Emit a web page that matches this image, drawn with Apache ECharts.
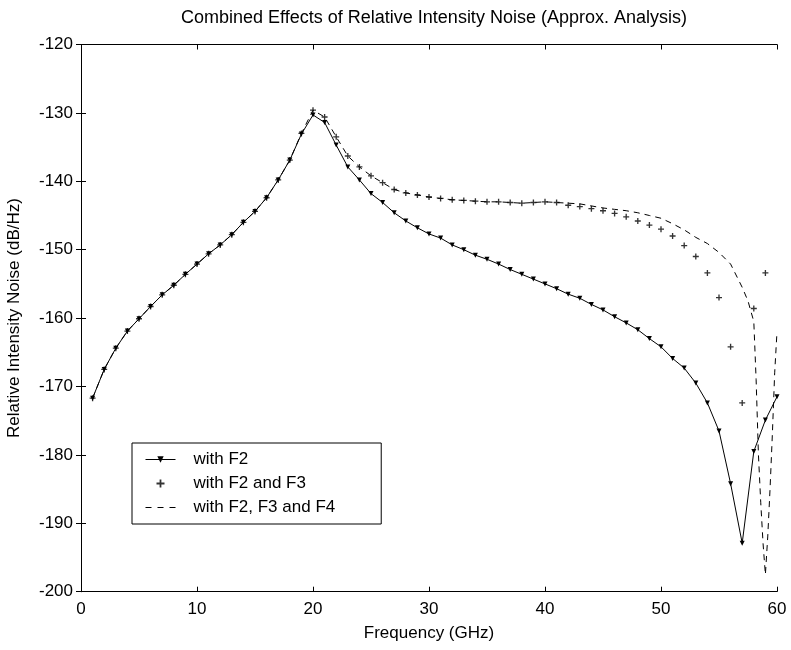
<!DOCTYPE html>
<html>
<head>
<meta charset="utf-8">
<script src="https://cdn.jsdelivr.net/npm/echarts@6/dist/echarts.min.js"></script>
<style>
  html, body { margin: 0; padding: 0; background: #fff; }
  #chart { width: 791px; height: 650px; }
</style>
</head>
<body>
<div id="chart"></div>
<script>
// frequency axis (GHz), one point per GHz
const freq = [1,2,3,4,5,6,7,8,9,10,11,12,13,14,15,16,17,18,19,20,
  21,22,23,24,25,26,27,28,29,30,31,32,33,34,35,36,37,38,39,40,
  41,42,43,44,45,46,47,48,49,50,51,52,53,54,55,56,57,58,59,60];

// with F2 (solid + triangles)
const rinF2 = [-171.7,-167.5,-164.4,-161.9,-160.1,-158.3,-156.6,-155.2,-153.6,-152.1,
  -150.6,-149.3,-147.8,-146.0,-144.4,-142.4,-139.8,-136.9,-133.1,-130.3,
  -131.4,-134.7,-137.9,-139.8,-141.8,-143.1,-144.6,-145.8,-146.8,-147.7,
  -148.3,-149.3,-150.0,-150.8,-151.4,-152.1,-152.9,-153.6,-154.3,-155.0,
  -155.7,-156.5,-157.1,-158.0,-158.8,-159.8,-160.7,-161.7,-163.0,-164.2,
  -165.9,-167.3,-169.5,-172.4,-176.5,-184.2,-192.9,-179.5,-174.9,-171.5];

// with F2 and F3 (plus markers only), 1..59 GHz
const rinF23 = [-171.7,-167.5,-164.4,-161.9,-160.1,-158.3,-156.6,-155.2,-153.6,-152.1,
  -150.6,-149.3,-147.8,-146.0,-144.4,-142.4,-139.8,-136.9,-133.0,-129.6,
  -130.6,-133.5,-136.3,-137.9,-139.2,-140.2,-141.2,-141.7,-142.0,-142.3,
  -142.5,-142.7,-142.8,-142.9,-143.0,-143.0,-143.1,-143.2,-143.1,-143.0,
  -143.1,-143.5,-143.7,-144.0,-144.3,-144.7,-145.2,-145.8,-146.4,-147.0,
  -148.0,-149.4,-151.0,-153.4,-157.0,-164.2,-172.4,-158.6,-153.4];

// with F2, F3 and F4 (dashed), finer steps near the notch
const freqF234 = [1,2,3,4,5,6,7,8,9,10,11,12,13,14,15,16,17,18,19,20,
  21,22,23,24,25,26,27,28,29,30,31,32,33,34,35,36,37,38,39,40,
  41,42,43,44,45,46,47,48,49,50,51,52,53,54,55,56,57,57.5,58,
  58.2,58.4,58.6,58.8,59,59.2,59.4,59.6,59.8,60];
const rinF234 = [-171.7,-167.5,-164.4,-161.9,-160.1,-158.3,-156.6,-155.2,-153.6,-152.1,
  -150.6,-149.3,-147.8,-146.0,-144.4,-142.4,-139.8,-136.9,-133.0,-129.6,
  -130.6,-133.5,-136.3,-137.9,-139.2,-140.2,-141.2,-141.7,-142.0,-142.3,
  -142.5,-142.7,-142.8,-142.9,-143.0,-143.0,-143.1,-143.2,-143.1,-143.0,
  -143.1,-143.2,-143.3,-143.6,-143.9,-144.1,-144.3,-144.6,-145.0,-145.4,
  -146.2,-147.1,-148.2,-149.1,-150.4,-152.1,-155.5,-157.5,-160.5,
  -169.0,-180.0,-187.0,-193.0,-197.5,-192.0,-185.0,-177.0,-168.0,-162.0];

const font = 'Liberation Sans, Arial, sans-serif';
const plusPath = 'path://M3.5,0h2v3.5h3.5v2h-3.5v3.5h-2v-3.5h-3.5v-2h3.5z';
const dashPath = 'path://M0,0h6v1h-6zM12,0h6v1h-6zM24,0h6v1h-6z';

function pairs(xs, ys) {
  return ys.map((y, i) => [xs[i], y]);
}

const chart = echarts.init(document.getElementById('chart'));

const axisCommon = {
  type: 'value',
  axisLine: { show: true, lineStyle: { color: '#000', width: 1 } },
  axisTick: { show: true, inside: true, length: 5, lineStyle: { color: '#000' } },
  splitLine: { show: false }
};

const option = {
  animation: false,
  backgroundColor: '#fff',
  textStyle: { fontFamily: font },
  title: {
    text: 'Combined Effects of Relative Intensity Noise (Approx. Analysis)',
    left: 429,
    textAlign: 'center',
    top: 4,
    textStyle: { fontSize: 18, fontWeight: 'normal', color: '#000', fontFamily: font }
  },
  grid: { left: 81, right: 14, top: 44.5, bottom: 58.3, outerBoundsMode: 'none', containLabel: false },
  legend: {
    orient: 'vertical',
    left: 132,
    top: 443,
    padding: [8, 46, 8, 13],
    itemGap: 7,
    itemWidth: 30,
    itemHeight: 8,
    borderColor: '#000',
    borderWidth: 1,
    backgroundColor: '#fff',
    textStyle: { fontSize: 17, color: '#000', fontFamily: font, padding: [0, 0, 0, 13] },
    data: [
      { name: 'with F2', lineStyle: { width: 1 } },
      { name: 'with F2 and F3', icon: plusPath, itemStyle: { color: '#000' } },
      { name: 'with F2, F3 and F4', icon: dashPath, itemStyle: { color: '#000' } }
    ]
  },
  xAxis: [
    Object.assign({}, axisCommon, {
      min: 0, max: 60, interval: 10,
      name: 'Frequency (GHz)',
      nameLocation: 'middle',
      nameGap: 33,
      nameTextStyle: { fontSize: 17, color: '#000', fontFamily: font },
      axisLabel: { color: '#000', fontSize: 17, margin: 9, fontFamily: font }
    }),
    Object.assign({}, axisCommon, {
      position: 'top', min: 0, max: 60, interval: 10,
      axisLabel: { show: false }
    })
  ],
  yAxis: [
    Object.assign({}, axisCommon, {
      min: -200, max: -120, interval: 10,
      name: 'Relative Intensity Noise (dB/Hz)',
      nameLocation: 'middle',
      nameGap: 58,
      nameTextStyle: { fontSize: 17, color: '#000', fontFamily: font },
      axisLabel: { color: '#000', fontSize: 17, margin: 8, fontFamily: font }
    }),
    Object.assign({}, axisCommon, {
      position: 'right', min: -200, max: -120, interval: 10,
      axisLabel: { show: false }
    })
  ],
  series: [
    {
      name: 'with F2',
      type: 'line',
      data: pairs(freq, rinF2),
      symbol: 'triangle',
      symbolRotate: 180,
      symbolSize: 5,
      itemStyle: { color: '#000' },
      lineStyle: { color: '#000', width: 1 }
    },
    {
      name: 'with F2 and F3',
      type: 'scatter',
      data: pairs(freq, rinF23),
      symbol: plusPath,
      symbolSize: 6,
      itemStyle: { color: '#000' }
    },
    {
      name: 'with F2, F3 and F4',
      type: 'line',
      data: pairs(freqF234, rinF234),
      symbol: 'none',
      itemStyle: { color: '#000' },
      lineStyle: { color: '#000', width: 1, type: [6, 5] }
    }
  ]
};

chart.setOption(option);
</script>
</body>
</html>
